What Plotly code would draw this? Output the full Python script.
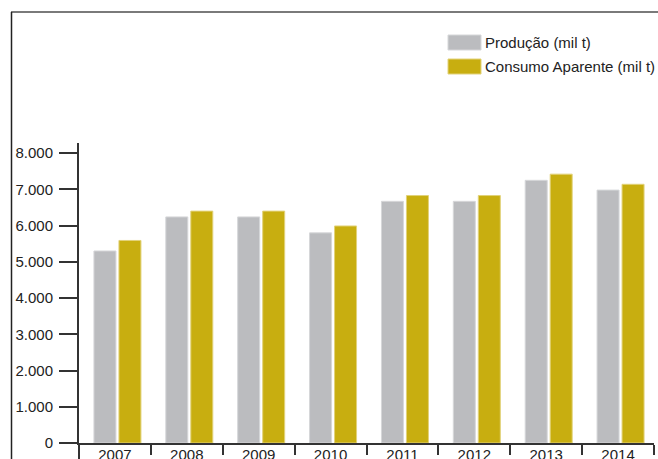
import plotly.graph_objects as go

# Data (mil t)
years = ["2007", "2008", "2009", "2010", "2011", "2012", "2013", "2014"]
producao = [5300, 6240, 6240, 5800, 6670, 6670, 7250, 6980]
consumo = [5590, 6400, 6400, 5990, 6830, 6830, 7420, 7140]
y_ticks = [0, 1000, 2000, 3000, 4000, 5000, 6000, 7000, 8000]
series_names = ["Produção (mil t)", "Consumo Aparente (mil t)"]

GRAY = "#BBBCBF"
GOLD = "#C8AE10"
AXIS = "#333333"
FONT = "Liberation Sans, Arial, sans-serif"

W_FIG, H_FIG = 658, 459
L, R, T, B = 79, 654, 143, 443  # plot area in pixels
CAT_PX = (R - L) / len(years)   # pixel width of one category


def px(x):
    return (x - L) / (R - L)


def py(y):
    return (B - y) / (B - T)


BAR_W = 22 / CAT_PX

fig = go.Figure()
fig.add_trace(go.Bar(x=years, y=producao, name=series_names[0],
                     width=BAR_W, offset=-21 / CAT_PX,
                     marker=dict(color=GRAY, line=dict(color="#D6D7D9", width=1))))
fig.add_trace(go.Bar(x=years, y=consumo, name=series_names[1],
                     width=BAR_W, offset=4 / CAT_PX,
                     marker=dict(color=GOLD, line=dict(color="#E2D27A", width=1))))

shapes = [
    # outer frame (top and left edges)
    dict(type="line", xref="paper", yref="paper", x0=px(11), x1=px(700), y0=py(12), y1=py(12),
         line=dict(color="#7a7a7a", width=2)),
    dict(type="line", xref="paper", yref="paper", x0=px(11.5), x1=px(11.5), y0=py(12), y1=py(500),
         line=dict(color="#222222", width=1.5)),
    # axis extensions past the crossing point
    dict(type="line", xref="paper", yref="paper", x0=px(73), x1=px(79), y0=0, y1=0,
         line=dict(color=AXIS, width=2)),
    dict(type="line", xref="paper", yref="paper", x0=0, x1=0, y0=0, y1=py(470),
         line=dict(color=AXIS, width=2)),
    # legend swatches
    dict(type="rect", xref="paper", yref="paper", x0=px(448), x1=px(481), y0=py(50), y1=py(35),
         fillcolor=GRAY, line=dict(color="#D6D7D9", width=1)),
    dict(type="rect", xref="paper", yref="paper", x0=px(448), x1=px(481), y0=py(74), y1=py(59),
         fillcolor=GOLD, line=dict(color="#E2D27A", width=1)),
]

annotations = [
    dict(xref="paper", yref="paper", x=px(483), y=py(42.5), text=series_names[0],
         showarrow=False, xanchor="left", yanchor="middle",
         font=dict(family=FONT, size=15, color="#222222")),
    dict(xref="paper", yref="paper", x=px(483), y=py(66.5), text=series_names[1],
         showarrow=False, xanchor="left", yanchor="middle",
         font=dict(family=FONT, size=15, color="#222222")),
]

fig.update_layout(
    width=W_FIG, height=H_FIG,
    margin=dict(l=L, r=W_FIG - R, t=T, b=H_FIG - B, autoexpand=False),
    paper_bgcolor="white", plot_bgcolor="white",
    barmode="overlay",
    showlegend=False,
    separators=",.",
    font=dict(family=FONT, color="#222222"),
    shapes=shapes, annotations=annotations,
)

fig.update_xaxes(
    type="category", range=[-0.5, 7.5],
    showline=True, linecolor=AXIS, linewidth=2,
    ticks="outside", tickson="boundaries", ticklen=10, tickwidth=2, tickcolor=AXIS,
    ticklabelstandoff=-3,
    tickfont=dict(family=FONT, size=15, color="#222222"),
    showgrid=False, zeroline=False, automargin=False,
)

fig.update_yaxes(
    range=[0, 8280],
    tickvals=y_ticks, tickformat=",d",
    showline=True, linecolor=AXIS, linewidth=2,
    ticks="outside", ticklen=18, tickwidth=2, tickcolor=AXIS,
    ticklabelstandoff=3,
    tickfont=dict(family=FONT, size=15, color="#222222"),
    showgrid=False, zeroline=False, automargin=False,
)

fig.write_html("out.html")
